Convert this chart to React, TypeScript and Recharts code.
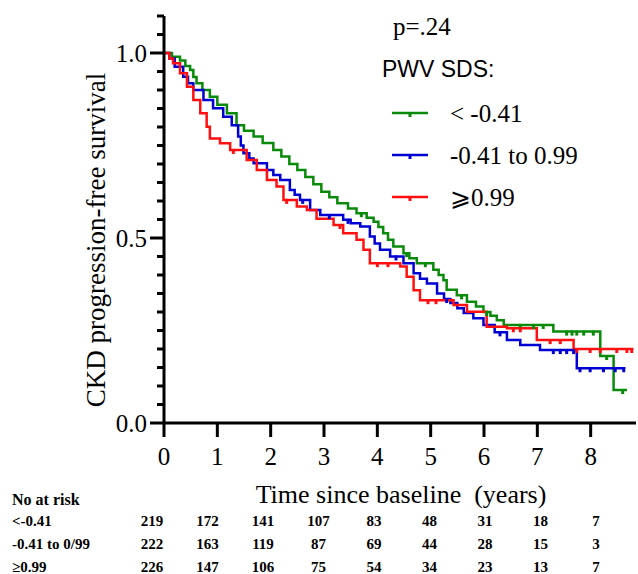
import { ComposedChart, Line, Scatter, XAxis, YAxis } from "recharts";

// Kaplan-Meier steps (time in years, survival after the step)
const lowTimes = [0, 0.15, 0.3, 0.4, 0.49, 0.55, 0.61, 0.72, 0.86, 1.0, 1.18, 1.36, 1.5, 1.68, 1.85, 2.05, 2.2, 2.35, 2.5, 2.65, 2.8, 2.95, 3.1, 3.25, 3.45, 3.61, 3.8, 3.93, 4.02, 4.11, 4.2, 4.3, 4.49, 4.6, 4.74, 5.05, 5.15, 5.24, 5.3, 5.49, 5.68, 5.85, 5.99, 6.12, 6.24, 6.37, 7.3, 8.18, 8.43, 8.68];
const lowSurv = [1.0, 0.99, 0.98, 0.965, 0.954, 0.935, 0.918, 0.9, 0.882, 0.86, 0.837, 0.805, 0.79, 0.774, 0.757, 0.738, 0.72, 0.7, 0.684, 0.665, 0.645, 0.625, 0.61, 0.594, 0.58, 0.567, 0.555, 0.544, 0.53, 0.513, 0.495, 0.477, 0.459, 0.445, 0.432, 0.414, 0.4, 0.386, 0.36, 0.345, 0.328, 0.315, 0.3, 0.29, 0.278, 0.265, 0.247, 0.181, 0.089, 0.089];

const midTimes = [0, 0.1, 0.2, 0.36, 0.45, 0.55, 0.74, 0.92, 1.11, 1.27, 1.39, 1.44, 1.49, 1.6, 1.68, 1.93, 2.05, 2.18, 2.36, 2.45, 2.55, 2.74, 2.93, 3.36, 3.5, 3.68, 3.86, 3.95, 4.05, 4.24, 4.49, 4.68, 4.8, 4.93, 5.12, 5.25, 5.37, 5.5, 5.62, 5.8, 5.99, 6.2, 6.43, 6.68, 7.05, 7.74, 8.65];
const midSurv = [1.0, 0.985, 0.963, 0.936, 0.918, 0.9, 0.873, 0.851, 0.828, 0.805, 0.774, 0.75, 0.729, 0.715, 0.702, 0.684, 0.67, 0.657, 0.63, 0.617, 0.603, 0.576, 0.562, 0.549, 0.54, 0.531, 0.504, 0.485, 0.468, 0.45, 0.432, 0.405, 0.39, 0.377, 0.35, 0.335, 0.324, 0.31, 0.297, 0.283, 0.265, 0.245, 0.224, 0.211, 0.197, 0.148, 0.148];

const highTimes = [0, 0.1, 0.17, 0.3, 0.43, 0.55, 0.68, 0.8, 0.86, 1.05, 1.24, 1.55, 1.74, 1.93, 2.11, 2.24, 2.49, 2.68, 2.86, 3.18, 3.36, 3.61, 3.74, 3.86, 4.43, 4.55, 4.68, 4.8, 5.43, 5.68, 6.05, 6.43, 6.99, 7.68, 8.8];
const highSurv = [1.0, 0.985, 0.972, 0.945, 0.909, 0.873, 0.837, 0.801, 0.769, 0.756, 0.738, 0.711, 0.684, 0.657, 0.639, 0.603, 0.585, 0.576, 0.552, 0.535, 0.513, 0.495, 0.468, 0.432, 0.423, 0.395, 0.359, 0.332, 0.319, 0.301, 0.26, 0.256, 0.224, 0.2, 0.2];

// censoring ticks visible on the flat parts of the curves
const lowCensor = [3.7, 4.55, 4.9, 5.58, 6.05, 6.68, 6.93, 7.11, 7.55, 7.65, 7.74, 7.87, 8.05, 8.3, 8.6];
const midCensor = [2.6, 3.1, 3.45, 4.35, 5.3, 6.3, 7.3, 7.43, 7.55, 7.68, 7.8, 7.99, 8.24, 8.46, 8.62];
const highCensor = [1.3, 2.3, 3.3, 4.0, 4.2, 4.95, 5.1, 6.55, 6.68, 7.24, 7.43, 7.74, 7.99, 8.18, 8.49, 8.68, 8.77];

const groupNames = ["< -0.41", "-0.41 to 0.99", "⩾0.99"];
const groupColors = ["#0a8a0a", "#0000d2", "#ff1010"];

const xTicks = [0, 1, 2, 3, 4, 5, 6, 7, 8];
const yTicks = Array.from({ length: 23 }, (_, i) => Math.round(i * 5) / 100);

const riskLabels = ["<-0.41", "-0.41 to 0/99", "≥0.99"];
const riskLow = [219, 172, 141, 107, 83, 48, 31, 18, 7];
const riskMid = [222, 163, 119, 87, 69, 44, 28, 15, 3];
const riskHigh = [226, 147, 106, 75, 54, 34, 23, 13, 7];

const serif = "Liberation Serif, Times New Roman, serif";
const sans = "Liberation Sans, Arial, sans-serif";

const toSteps = (ts: number[], ss: number[]) => ts.map((t, i) => ({ t, s: ss[i] }));

// survival value of the step curve at time t
const survAt = (ts: number[], ss: number[], t: number) => {
  let v = ss[0];
  ts.forEach((x, i) => {
    if (x <= t) v = ss[i];
  });
  return v;
};

const toCensor = (cs: number[], ts: number[], ss: number[]) => cs.map((t) => ({ t, s: survAt(ts, ss, t) }));

const YTick = (props: any) => {
  const { x, y, payload } = props;
  const v = payload.value;
  const major = Math.abs(v * 2 - Math.round(v * 2)) < 1e-6 && v <= 1;
  return (
    <g>
      <line x1={x - (major ? 14 : 7)} x2={x} y1={y} y2={y} stroke="#000" strokeWidth={3} />
      {major && (
        <text x={x - 17} y={y} dy={8.5} textAnchor="end" fontFamily={serif} fontSize={25} fill="#000">
          {v.toFixed(1)}
        </text>
      )}
    </g>
  );
};

const XTick = (props: any) => {
  const { x, y, payload } = props;
  return (
    <g>
      <line x1={x} x2={x} y1={y} y2={y + 14} stroke="#000" strokeWidth={3} />
      <text x={x} y={y + 42} textAnchor="middle" fontFamily={serif} fontSize={25} fill="#000">
        {payload.value}
      </text>
    </g>
  );
};

const CensorMark = (props: any) => {
  const { cx, cy, fill } = props;
  return <rect x={cx - 1.5} y={cy - 1} width={3} height={5} fill={fill} />;
};

const App = () => {
  const series = [toSteps(lowTimes, lowSurv), toSteps(midTimes, midSurv), toSteps(highTimes, highSurv)];
  const censors = [
    toCensor(lowCensor, lowTimes, lowSurv),
    toCensor(midCensor, midTimes, midSurv),
    toCensor(highCensor, highTimes, highSurv),
  ];
  const riskRows = [riskLow, riskMid, riskHigh];
  const legendY = [113, 155, 197];

  return (
    <div style={{ position: "relative", width: 638, height: 574, background: "#fff" }}>
      <style>{"body{margin:0}"}</style>
      <ComposedChart width={638} height={470} margin={{ top: 16, right: 2, left: 104, bottom: 0 }}>
        <XAxis
          dataKey="t"
          type="number"
          domain={[0, 8.85]}
          ticks={xTicks}
          allowDataOverflow
          height={47}
          tickSize={0}
          tickMargin={0}
          tick={<XTick />}
          axisLine={{ stroke: "#000", strokeWidth: 3 }}
        />
        <YAxis
          type="number"
          domain={[0, 1.1]}
          ticks={yTicks}
          interval={0}
          width={60}
          tickSize={0}
          tickMargin={0}
          tick={<YTick />}
          axisLine={{ stroke: "#000", strokeWidth: 3 }}
        />
        {series.map((d, i) => (
          <Line
            key={groupNames[i]}
            data={d}
            dataKey="s"
            name={groupNames[i]}
            type="stepAfter"
            stroke={groupColors[i]}
            strokeWidth={2.5}
            dot={false}
            isAnimationActive={false}
          />
        ))}
        {censors.map((d, i) => (
          <Scatter
            key={"c" + i}
            data={d}
            dataKey="s"
            fill={groupColors[i]}
            shape={<CensorMark />}
            isAnimationActive={false}
          />
        ))}
      </ComposedChart>

      <svg
        width={638}
        height={574}
        style={{ position: "absolute", left: 0, top: 0, pointerEvents: "none", fontFamily: serif }}
      >
        <text x={393} y={35} fontFamily={serif} fontSize={25}>p=.24</text>
        <text x={382} y={77} fontFamily={sans} fontSize={23}>PWV SDS:</text>
        {groupNames.map((n, i) => (
          <g key={n}>
            <line x1={392} x2={428} y1={legendY[i]} y2={legendY[i]} stroke={groupColors[i]} strokeWidth={2.5} />
            <rect x={408.5} y={legendY[i]} width={3} height={4} fill={groupColors[i]} />
            <text x={450} y={legendY[i] + 9} fontFamily={serif} fontSize={25}>{n}</text>
          </g>
        ))}

        <text transform="translate(105,240) rotate(-90)" textAnchor="middle" fontFamily={serif} fontSize={27}>
          CKD progression-free survival
        </text>
        <text x={401} y={503} textAnchor="middle" fontFamily={serif} fontSize={26} style={{ whiteSpace: "pre" }}>
          {"Time since baseline  (years)"}
        </text>

        <text x={12} y={505} fontFamily={serif} fontSize={16} fontWeight="bold">No at risk</text>
        {riskLabels.map((lab, r) => (
          <g key={lab}>
            <text x={12} y={526 + r * 23} fontFamily={serif} fontSize={15} fontWeight="bold">{lab}</text>
            {riskRows[r].map((n, c) => (
              <text key={c} x={152 + c * 55.5} y={526 + r * 23} textAnchor="middle" fontFamily={serif} fontSize={15} fontWeight="bold">
                {n}
              </text>
            ))}
          </g>
        ))}
      </svg>
    </div>
  );
};

export default App;
